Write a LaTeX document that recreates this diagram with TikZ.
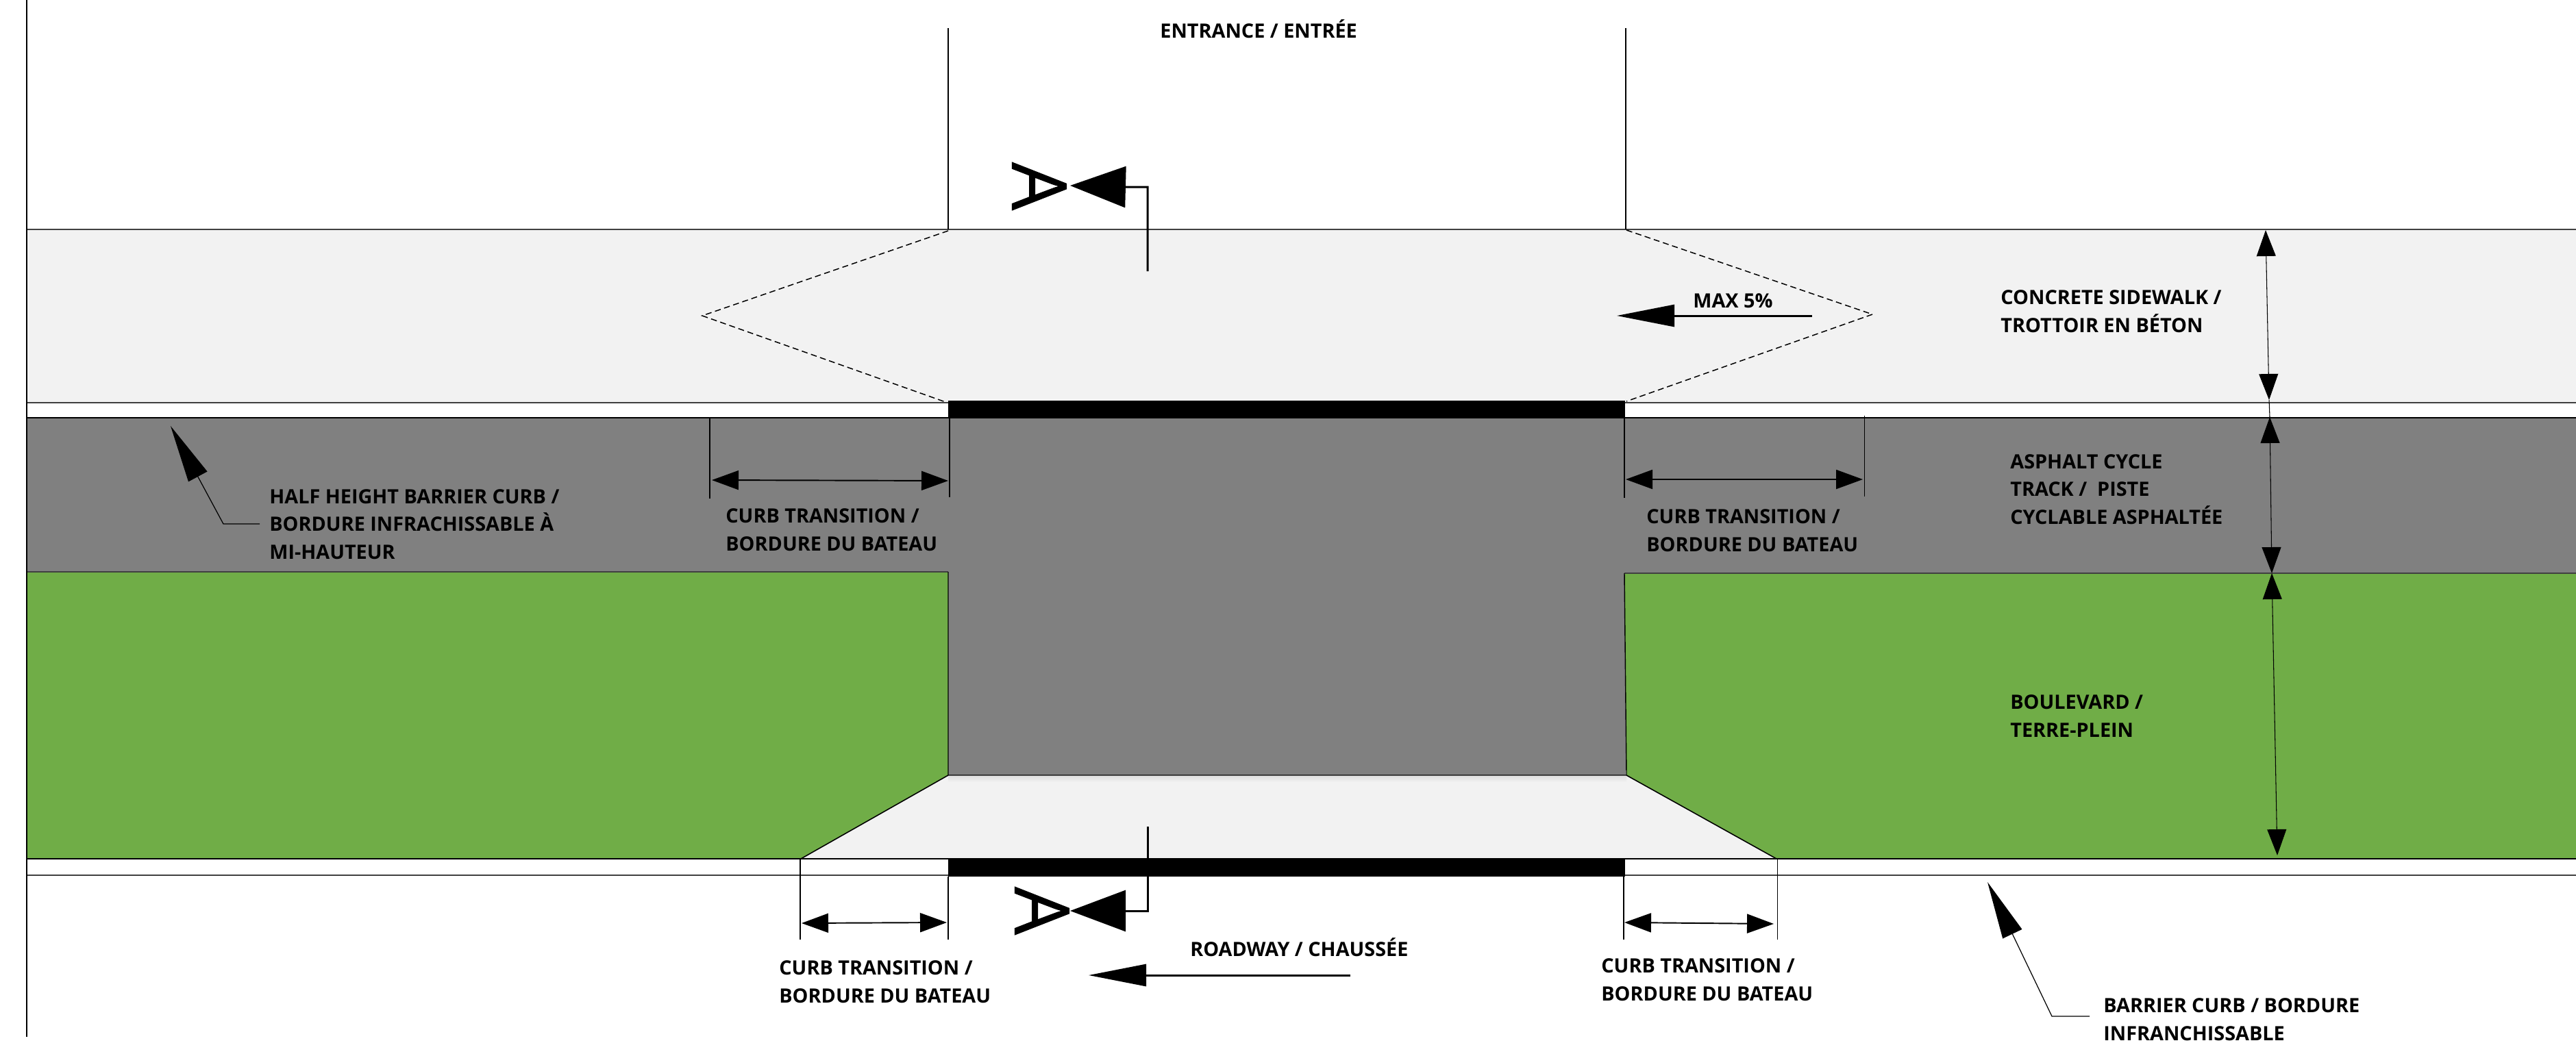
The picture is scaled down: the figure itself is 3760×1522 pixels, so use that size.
\documentclass[tikz,border=0pt]{standalone}
\usepackage{fontspec}
\setmainfont{Open Sans}
\newfontfamily\sectionfont[FakeBold=0.8]{Open Sans}
\usetikzlibrary{arrows.meta}
\definecolor{walk}{HTML}{F2F2F2}
\definecolor{asph}{HTML}{808080}
\definecolor{grass}{HTML}{70AD47}
\definecolor{edge}{HTML}{404040}
\tikzset{
  x=0.02cm,y=-0.02cm,
  lbl/.style={inner sep=0pt,align=left,anchor=north west,font=\fontsize{16.4}{23.2}\selectfont\bfseries},
  lblone/.style={inner sep=0pt,anchor=base west,font=\fontsize{16.4}{23.2}\selectfont\bfseries},
  bigA/.style={inner sep=0pt,rotate=-90,font=\sectionfont\fontsize{63}{63}\selectfont},
  road/.style={draw=edge,line width=1.1pt},
  thin line/.style={black,line width=0.6pt},
  slope/.style={black,line width=0.85pt,dash pattern=on 5pt off 3pt},
  dimh/.style={black,line width=1.1pt,{Triangle[length=0.78cm,width=0.56cm]}-{Triangle[length=0.78cm,width=0.56cm]}},
  dimv/.style={black,line width=0.6pt,{Triangle[length=0.76cm,width=0.56cm]}-{Triangle[length=0.76cm,width=0.56cm]}},
  cutline/.style={black,line width=1.7pt,-{Triangle[length=1.62cm,width=1.2cm]}},
  flow/.style={black,line width=1.7pt,-{Triangle[length=1.68cm,width=0.64cm]}},
  leader/.style={black,line width=0.7pt,-{Triangle[length=1.68cm,width=0.62cm]}},
}
\begin{document}
\begin{tikzpicture}
\useasboundingbox (0,0) rectangle (3760,1522);
% surfaces
\fill[walk] (38,335) rectangle (3760,588);
\fill[asph] (38,610) rectangle (3760,836);
\fill[asph] (1384,610) rectangle (2373,1132);
\fill[grass] (38,835) -- (1384,835) -- (1384,1132) -- (1169,1254) -- (38,1254) -- cycle;
\fill[grass] (2371,837) -- (3760,837) -- (3760,1254) -- (2593,1254) -- (2374,1132) -- cycle;
\fill[walk] (1384,1132) -- (2374,1132) -- (2593,1254) -- (1169,1254) -- cycle;
\shade[top color=black!12,bottom color=walk] (1384,1133) rectangle (2374,1142);
% road lines
\draw[road] (38,335) -- (3760,335);
\draw[road] (38,588) -- (3760,588);
\draw[road,black] (38,610) -- (3760,610);
\draw[road] (38,835) -- (1384,835);
\draw[road] (2371,837) -- (3760,837);
\draw[road,black] (38,1254) -- (3760,1254);
\draw[road] (38,1278) -- (3760,1278);
\draw[black,line width=0.8pt] (1384,835) -- (1384,1132) -- (2374,1132) -- (2371,837);
\draw[black,line width=0.9pt] (1384,1132) -- (1169,1254);
\draw[black,line width=0.9pt] (2374,1132) -- (2593,1254);
\draw[black,line width=1.3pt] (39,0) -- (39,1514);
% entrance lines
\draw[thin line] (1384,41) -- (1384,335);
\draw[thin line] (2373,41) -- (2373,335);
% black bars
\fill[black] (1384,585) rectangle (2372,611);
\fill[black] (1384,1253) rectangle (2372,1280);
% slope hexagon
\draw[slope] (1384,337) -- (1025,461) -- (1380,587);
\draw[slope] (2374,336) -- (2733,459) -- (2374,586);
% extension lines
\draw[thin line] (1036,610) -- (1036,728);
\draw[thin line] (1386,611) -- (1386,726);
\draw[thin line] (2371,611) -- (2371,727);
\draw[thin line] (2721,607) -- (2721,725);
\draw[thin line] (1168,1254) -- (1168,1372);
\draw[thin line] (1384,1280) -- (1384,1372);
\draw[thin line] (2370,1280) -- (2370,1372);
\draw[thin line] (2594,1254) -- (2594,1372);
% dimension arrows
\coordinate (d1a) at (1039,701); \coordinate (d1b) at (1384,702);
\coordinate (d2a) at (2373,700); \coordinate (d2b) at (2719,700);
\coordinate (d3a) at (1170,1348); \coordinate (d3b) at (1382,1347);
\coordinate (d4a) at (2371,1347); \coordinate (d4b) at (2589,1349);
\draw[dimh] (d1a) -- (d1b);
\draw[dimh] (d2a) -- (d2b);
\draw[dimh] (d3a) -- (d3b);
\draw[dimh] (d4a) -- (d4b);
\coordinate (v1a) at (3307,336); \coordinate (v1b) at (3312,584);
\coordinate (v2a) at (3313,609); \coordinate (v2b) at (3316,837);
\coordinate (v3a) at (3316,837); \coordinate (v3b) at (3324,1249);
\draw[dimv] (v1a) -- (v1b);
\draw[thin line] (v1b) -- (v2a);
\draw[dimv] (v2a) -- (v2b);
\draw[dimv] (v3a) -- (v3b);
% section marks
\coordinate (s1a) at (1675,396); \coordinate (s1b) at (1675,273); \coordinate (s1c) at (1562,271);
\draw[cutline] (s1a) -- (s1b) -- (1643,273) -- (s1c);
\coordinate (s2a) at (1675,1207); \coordinate (s2b) at (1675,1330); \coordinate (s2c) at (1562,1330);
\draw[cutline] (s2a) -- (s2b) -- (s2c);
\node[bigA] (secAtop) at (1517,272) {A};
\node[bigA] (secAbot) at (1521,1330) {A};
% flow arrows
\coordinate (f1a) at (2645,461); \coordinate (f1b) at (2360,461);
\coordinate (f2a) at (1971,1424); \coordinate (f2b) at (1589,1424);
\draw[flow] (f1a) -- (f1b);
\draw[flow] (f2a) -- (f2b);
% leaders
\coordinate (l1a) at (379,765); \coordinate (l1b) at (326,765); \coordinate (l1c) at (249,622);
\draw[leader] (l1a) -- (l1b) -- (l1c);
\coordinate (l2a) at (3050,1484); \coordinate (l2b) at (2995,1484); \coordinate (l2c) at (2901,1288);
\draw[leader] (l2a) -- (l2b) -- (l2c);
% labels
\node[lblone] (entrance) at (1693,55) {ENTRANCE / ENTRÉE};
\node[lblone] (maxslope) at (2471,449) {MAX 5\%};
\node[lblone] (roadway) at (1737,1396) {ROADWAY / CHAUSSÉE};
\node[lbl] (sidewalk) at (2920,423) {CONCRETE SIDEWALK /\\TROTTOIR EN BÉTON};
\node[lbl] (cycle) at (2934,663) {ASPHALT CYCLE\\TRACK /\ \ PISTE\\CYCLABLE ASPHALTÉE};
\node[lbl] (blvd) at (2934,1014) {BOULEVARD /\\TERRE-PLEIN};
\node[lbl] (half) at (393,714) {HALF HEIGHT BARRIER CURB /\\BORDURE INFRACHISSABLE À\\MI-HAUTEUR};
\node[lbl] (ct1) at (1059,742) {CURB TRANSITION /\\BORDURE DU BATEAU};
\node[lbl] (ct2) at (2403,743) {CURB TRANSITION /\\BORDURE DU BATEAU};
\node[lbl] (ct3) at (1137,1402) {CURB TRANSITION /\\BORDURE DU BATEAU};
\node[lbl] (ct4) at (2337,1399) {CURB TRANSITION /\\BORDURE DU BATEAU};
\node[lbl] (barrier) at (3070,1457) {BARRIER CURB / BORDURE\\INFRANCHISSABLE};
\end{tikzpicture}
\end{document}
